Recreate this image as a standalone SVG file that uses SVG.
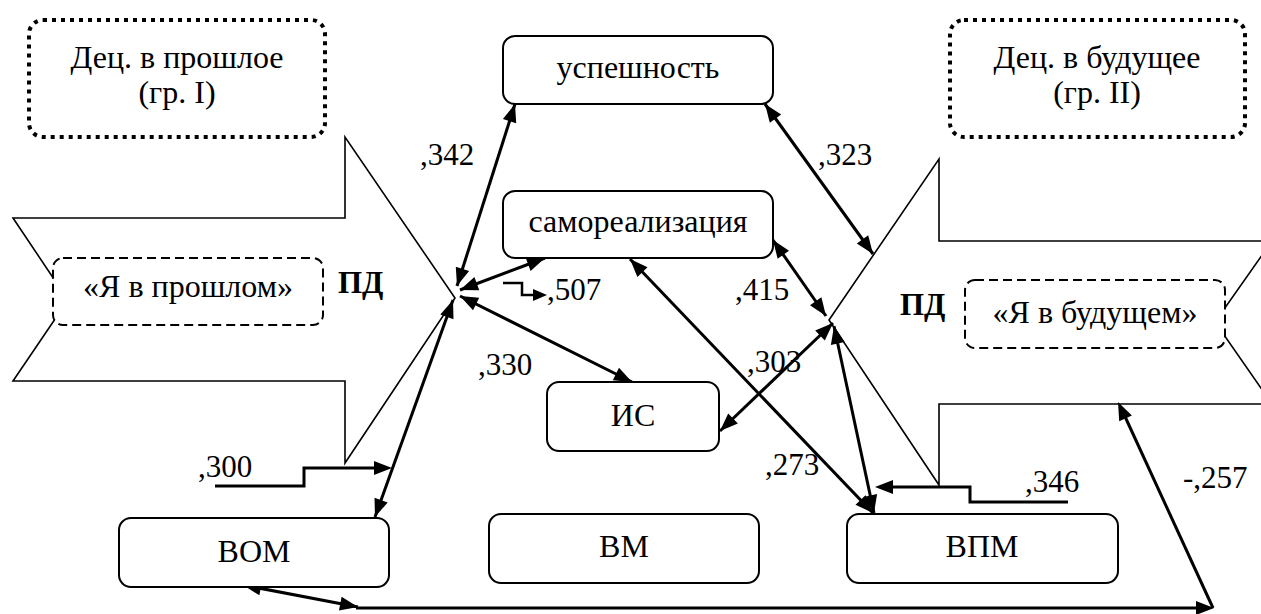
<svg xmlns="http://www.w3.org/2000/svg" width="1261" height="614" viewBox="0 0 1261 614">
<rect width="1261" height="614" fill="#fff"/>
<g id="arrow-past"><polygon fill="none" stroke="#000" stroke-width="1.6" points="13,218 345,218 345,137 455,298 345,463 345,381 13,381 68,300"/></g>
<g id="arrow-future"><polygon fill="none" stroke="#000" stroke-width="1.6" points="829,320 939,159 939,241 1272,241 1215,322 1272,404 939,404 939,485"/></g>
<g id="connectors">
<g fill="none" stroke="#000" stroke-width="3">
<path d="M457,286 L515,104"/>
<path d="M460,290 L545,258"/>
<path d="M460,296 L632,382"/>
<path d="M453,300 L375,517"/>
<path d="M765,104 L873,254"/>
<path d="M773,240 L826,316"/>
<path d="M720,431 L833,323"/>
<path d="M630,259 L873,513"/>
<path d="M834,326 L874,513"/>
<path d="M243,585 L358,607"/>
<path d="M215,486 H304 V468 H380"/>
<path stroke-width="2.5" d="M503,283 H522 V295 H537"/>
<path d="M1068,502 H970 V487 H887"/>
<path d="M356,608 H1202"/>
<path d="M1213,608 L1122,410"/>
</g>
<g fill="#000">
<polygon points="515,104 516.2,123.3 502.9,119.0"/>
<polygon points="457,286 469.1,271.0 455.8,266.7"/>
<polygon points="545,258 530.6,270.9 525.7,257.8"/>
<polygon points="460,290 479.3,290.2 474.4,277.1"/>
<polygon points="632,382 612.8,380.2 619.0,367.7"/>
<polygon points="460,296 473.0,310.3 479.2,297.8"/>
<polygon points="375,517 374.5,497.7 387.7,502.4"/>
<polygon points="453,300 440.3,314.6 453.5,319.3"/>
<polygon points="392,468 374,461 374,475"/>
<polygon points="547,295 533,289 533,301"/>
<polygon points="873,254 856.8,243.5 868.2,235.3"/>
<polygon points="765,104 769.8,122.7 781.2,114.5"/>
<polygon points="826,316 810.0,305.2 821.4,297.2"/>
<polygon points="773,240 777.6,258.8 789.0,250.8"/>
<polygon points="833,323 824.8,340.5 815.2,330.4"/>
<polygon points="720,431 737.9,423.6 728.2,413.5"/>
<polygon points="873,513 855.5,504.8 865.6,495.2"/>
<polygon points="630,259 637.4,276.9 647.5,267.2"/>
<polygon points="874,513 863.4,496.9 877.1,493.9"/>
<polygon points="834,326 830.9,345.1 844.6,342.1"/>
<polygon points="875,487 893,480 893,494"/>
<polygon points="358,607 339.0,610.5 341.6,596.7"/>
<polygon points="243,585 259.4,595.3 262.0,581.5"/>
<polygon points="1214,608 1196,601 1196,615"/>
<polygon points="1118,402 1131.9,415.4 1119.2,421.3"/>
</g>
</g>
<g font-family="Liberation Serif" font-size="32" text-anchor="middle" fill="#000">
<g id="dec-past"><rect fill="#fff" stroke="#000" stroke-width="4" stroke-dasharray="4 5" x="29" y="20" width="296" height="117" rx="14"/><text x="177" y="68">Дец. в прошлое</text><text x="177" y="103">(гр. I)</text></g>
<g id="dec-future"><rect fill="#fff" stroke="#000" stroke-width="4" stroke-dasharray="4 5" x="950" y="20" width="295" height="117" rx="14"/><text x="1097" y="68">Дец. в будущее</text><text x="1097" y="103">(гр. II)</text></g>
<g id="uspeshnost"><rect fill="#fff" stroke="#000" stroke-width="2" x="503" y="36" width="270" height="68" rx="12"/><text x="638" y="78">успешность</text></g>
<g id="samorealizaciya"><rect fill="#fff" stroke="#000" stroke-width="2" x="503" y="191" width="270" height="67" rx="12"/><text x="638" y="232">самореализация</text></g>
<g id="IS"><rect fill="#fff" stroke="#000" stroke-width="2" x="547" y="382" width="172" height="69" rx="12"/><text x="633" y="426">ИС</text></g>
<g id="VM"><rect fill="#fff" stroke="#000" stroke-width="2" x="489" y="514" width="270" height="69" rx="12"/><text x="624" y="557">ВМ</text></g>
<g id="VOM"><rect fill="#fff" stroke="#000" stroke-width="2" x="119" y="518" width="270" height="69" rx="12"/><text x="254" y="562">ВОМ</text></g>
<g id="VPM"><rect fill="#fff" stroke="#000" stroke-width="2" x="847" y="514" width="271" height="69" rx="12"/><text x="982" y="557">ВПМ</text></g>
<g id="ya-past"><rect fill="#fff" stroke="#000" stroke-width="2" stroke-dasharray="9 5" x="53" y="258" width="270" height="67" rx="10"/><text x="188" y="297">«Я в прошлом»</text></g>
<g id="ya-future"><rect fill="#fff" stroke="#000" stroke-width="2" stroke-dasharray="9 5" x="965" y="280" width="260" height="68" rx="10"/><text x="1095" y="323">«Я в будущем»</text></g>
</g>
<g id="labels" font-family="Liberation Serif" font-size="31" fill="#000">
<text font-weight="bold" x="338" y="293">ПД</text>
<text font-weight="bold" x="900" y="315">ПД</text>
<text x="420" y="165">,342</text>
<text x="818" y="165">,323</text>
<text x="547" y="300">,507</text>
<text x="735" y="300">,415</text>
<text x="478" y="375">,330</text>
<text x="747" y="372">,303</text>
<text x="765" y="475">,273</text>
<text x="198" y="477">,300</text>
<text x="1025" y="492">,346</text>
<text x="1183" y="488">-,257</text>
</g>
</svg>
